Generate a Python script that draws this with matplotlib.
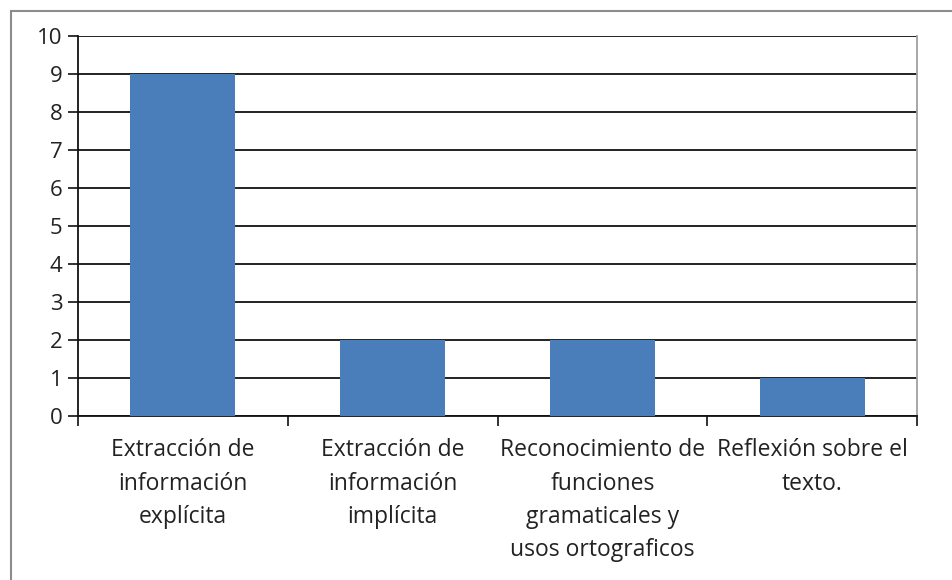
import matplotlib
matplotlib.use("Agg")
import matplotlib.pyplot as plt
from matplotlib.lines import Line2D

categories = ["Extracción de\ninformación\nexplícita",
              "Extracción de\ninformación\nimplícita",
              "Reconocimiento de\nfunciones\ngramaticales y\nusos ortograficos",
              "Reflexión sobre el\ntexto."]
values = [9, 2, 2, 1]
yticks = list(range(0, 11))

plt.rcParams['font.family'] = ['Open Sans', 'DejaVu Sans']

fig = plt.figure(figsize=(9.52, 5.8), dpi=100)
fig.patch.set_facecolor('white')
ax = fig.add_axes([78/952, 1-416/580, (917-78)/952, (416-36)/580])

x = list(range(len(values)))
ax.bar(x, values, width=0.5, color='#4A7EBB', zorder=3)
ax.set_xlim(-0.5, len(values)-0.5)
ax.set_ylim(0, 10)
ax.set_yticks(yticks)
ax.set_yticklabels([str(t) for t in yticks], fontsize=16, color='#222222')
ax.yaxis.grid(True, color='#111111', linewidth=1.3, zorder=0)
ax.set_axisbelow(True)

ax.set_xticks(x)
ax.set_xticklabels(categories, fontsize=16.5, color='#222222', linespacing=1.52, va='top')
ax.tick_params(axis='x', which='major', length=0, pad=16)
ax.set_xticks([i - 0.5 for i in range(len(values)+1)], minor=True)
ax.tick_params(axis='x', which='minor', length=7.2, width=1.3, color='#222222', direction='out')
ax.tick_params(axis='y', length=7.2, width=1.3, color='#222222', direction='out', pad=4)

ax.spines['top'].set_visible(False)
ax.spines['right'].set_color('#A0A0A0')
ax.spines['right'].set_linewidth(1.3)
ax.spines['left'].set_color('#111111')
ax.spines['left'].set_linewidth(1.3)
ax.spines['bottom'].set_color('#111111')
ax.spines['bottom'].set_linewidth(1.3)

# figure frame (cut at right and bottom)
fig.add_artist(Line2D([11/952, 11/952], [0, 1-11/580], transform=fig.transFigure, color='#8C8C8C', linewidth=1.5))
fig.add_artist(Line2D([11/952, 1], [1-11/580, 1-11/580], transform=fig.transFigure, color='#8C8C8C', linewidth=1.5))

fig.savefig('out.png', dpi=100, facecolor='white')
